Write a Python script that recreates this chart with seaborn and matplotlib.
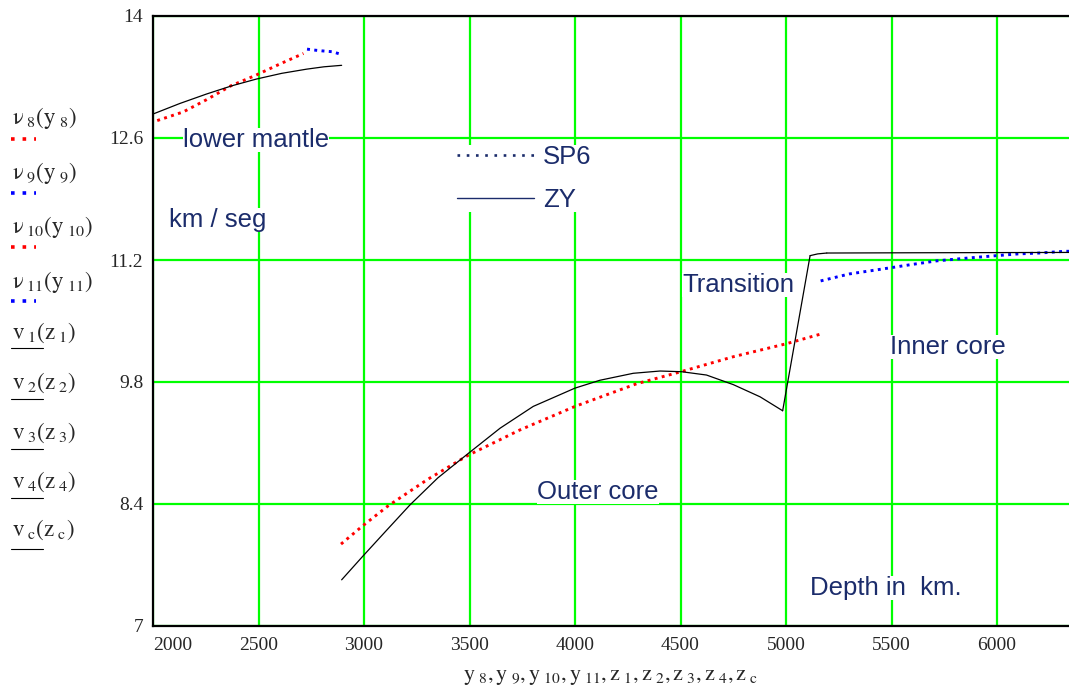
import seaborn as sns
import matplotlib.pyplot as plt
from matplotlib.lines import Line2D

# SP6 model (dotted)
y8 = [2020, 2144, 2254, 2370, 2487, 2602, 2713]
nu8 = [12.80, 12.90, 13.04, 13.20, 13.32, 13.45, 13.57]
y9 = [2730, 2760, 2800, 2850, 2891]
nu9 = [13.62, 13.61, 13.60, 13.59, 13.56]
y10 = [2891, 2994, 3115, 3300, 3494, 3739, 4000, 4292, 4505, 4750, 5003, 5164]
nu10 = [7.94, 8.15, 8.38, 8.68, 8.96, 9.25, 9.52, 9.78, 9.92, 10.09, 10.24, 10.35]
y11 = [5164, 5300, 5493, 5600, 5714, 5850, 5998, 6100, 6200, 6322, 6371]
nu11 = [10.96, 11.04, 11.11, 11.15, 11.19, 11.22, 11.25, 11.27, 11.28, 11.30, 11.30]

# ZY model (solid)
z1 = [2000, 2127, 2254, 2375, 2491, 2610, 2728, 2810, 2894]
v1 = [12.875, 12.996, 13.105, 13.20, 13.277, 13.342, 13.39, 13.417, 13.434]
z2 = [2894, 2994, 3100, 3218, 3350, 3494, 3645, 3802, 4000, 4118, 4276,
      4403, 4505, 4623, 4750, 4877, 4984]
v2 = [7.53, 7.80, 8.08, 8.39, 8.70, 8.98, 9.27, 9.52, 9.73, 9.82, 9.90,
      9.926, 9.918, 9.88, 9.77, 9.63, 9.47]
z3 = [4984, 5114]
v3 = [9.47, 11.25]
zc = [5114, 5150, 5193]
vc = [11.25, 11.27, 11.28]
z4 = [5193, 5600, 6000, 6371]
v4 = [11.28, 11.283, 11.285, 11.287]

x_ticks = [2000, 2500, 3000, 3500, 4000, 4500, 5000, 5500, 6000]
y_ticks = [7, 8.4, 9.8, 11.2, 12.6, 14]
y_tick_labels = ['7', '8.4', '9.8', '11.2', '12.6', '14']

navy = '#1b2c6b'
dots = (0, (1, 1.5))

sns.set_style('white')
plt.rcParams['font.family'] = ['Liberation Serif', 'DejaVu Serif']
plt.rcParams['mathtext.fontset'] = 'stix'

fig = plt.figure(figsize=(10.69, 6.95), dpi=100)
ax = fig.add_axes([153 / 1069, 1 - 626 / 695, 1 - 153 / 1069, 610 / 695])

for xs, ys, c in [(y8, nu8, 'red'), (y9, nu9, 'blue'),
                  (y10, nu10, 'red'), (y11, nu11, 'blue')]:
    sns.lineplot(x=xs, y=ys, ax=ax, color=c, lw=2.1, linestyle=dots,
                 sort=False, estimator=None, zorder=2)
for xs, ys in [(z1, v1), (z2, v2), (z3, v3), (zc, vc), (z4, v4)]:
    sns.lineplot(x=xs, y=ys, ax=ax, color='black', lw=0.9,
                 sort=False, estimator=None, zorder=2)

ax.set_xlim(2000, 6341)
ax.set_ylim(7, 14)
ax.set_xticks(x_ticks)
ax.set_yticks(y_ticks)
ax.set_yticklabels(y_tick_labels)
ax.tick_params(length=0, labelsize=14)
ax.tick_params(axis='x', pad=8)
ax.tick_params(axis='y', pad=7)
ax.get_xticklabels()[0].set_ha('left')
ax.set_axisbelow(True)
ax.grid(True, color='#00ff00', lw=1.6)
for s in ['left', 'bottom', 'top']:
    ax.spines[s].set_color('black')
    ax.spines[s].set_linewidth(1.6)
ax.spines['right'].set_visible(False)

ax.set_xlabel(r'$\mathrm{y_{\ 8},y_{\ 9},y_{\ 10},y_{\ 11},z_{\ 1},z_{\ 2},'
              r'z_{\ 3},z_{\ 4},z_{\ c}}$', fontsize=16, labelpad=10)

# annotations
box = dict(facecolor='white', edgecolor='none', pad=0)
for txt, x, y in [('lower mantle', 2142, 12.497), ('km / seg', 2077, 11.579),
                  ('Transition', 4507, 10.836), ('Inner core', 5493, 10.121),
                  ('Outer core', 3820, 8.461), ('Depth in  km.', 5114, 7.355)]:
    ax.text(x, y, txt, color=navy, fontsize=18.5, family='Liberation Sans',
            ha='left', va='baseline', bbox=box, zorder=1.5)

handles = [Line2D([], [], color=navy, lw=1.9, linestyle=(0, (1, 2.5))),
           Line2D([], [], color=navy, lw=1.0)]
leg = ax.legend(handles, ['SP6', 'ZY'], loc='upper left',
                bbox_to_anchor=(0.332, 0.7885), frameon=True, fancybox=False,
                facecolor='white', edgecolor='none', framealpha=1,
                borderpad=0, borderaxespad=0, handlelength=3.0,
                handletextpad=0.35, labelspacing=0.75,
                prop={'family': 'Liberation Sans', 'size': 18.5},
                labelcolor=navy)
leg.set_zorder(1.5)

# trace labels on the left
labels = [r'$\mathrm{ν_{\ 8}\left(y_{\ 8}\right)}$',
          r'$\mathrm{ν_{\ 9}\left(y_{\ 9}\right)}$',
          r'$\mathrm{ν_{\ 10}\left(y_{\ 10}\right)}$',
          r'$\mathrm{ν_{\ 11}\left(y_{\ 11}\right)}$',
          r'$\mathrm{v_{\ 1}\left(z_{\ 1}\right)}$',
          r'$\mathrm{v_{\ 2}\left(z_{\ 2}\right)}$',
          r'$\mathrm{v_{\ 3}\left(z_{\ 3}\right)}$',
          r'$\mathrm{v_{\ 4}\left(z_{\ 4}\right)}$',
          r'$\mathrm{v_{\ c}\left(z_{\ c}\right)}$']
label_y = [118, 173, 227, 282, 333, 383, 433, 482, 530]
sample_y = [139, 193, 247, 301, 348, 399, 449, 498, 549]
sample_style = [('red', dots, 2.5), ('blue', dots, 2.5), ('red', dots, 2.5),
                ('blue', dots, 2.5), ('black', '-', 0.8), ('black', '-', 0.8),
                ('black', '-', 0.8), ('black', '-', 0.8), ('black', '-', 0.8)]
W, H = 1069, 695
for lab, ly, sy, (c, ls, lw) in zip(labels, label_y, sample_y, sample_style):
    fig.text(12 / W, 1 - ly / H, lab, fontsize=16.5, ha='left', va='center')
    x1 = 36 if ls != '-' else 43
    fig.add_artist(Line2D([11 / W, x1 / W], [1 - sy / H, 1 - sy / H],
                          color=c, lw=lw if ls == '-' else 2.6,
                          linestyle=(0, (1, 2.2)) if ls != '-' else '-'))

fig.savefig('out.png', dpi=100)
